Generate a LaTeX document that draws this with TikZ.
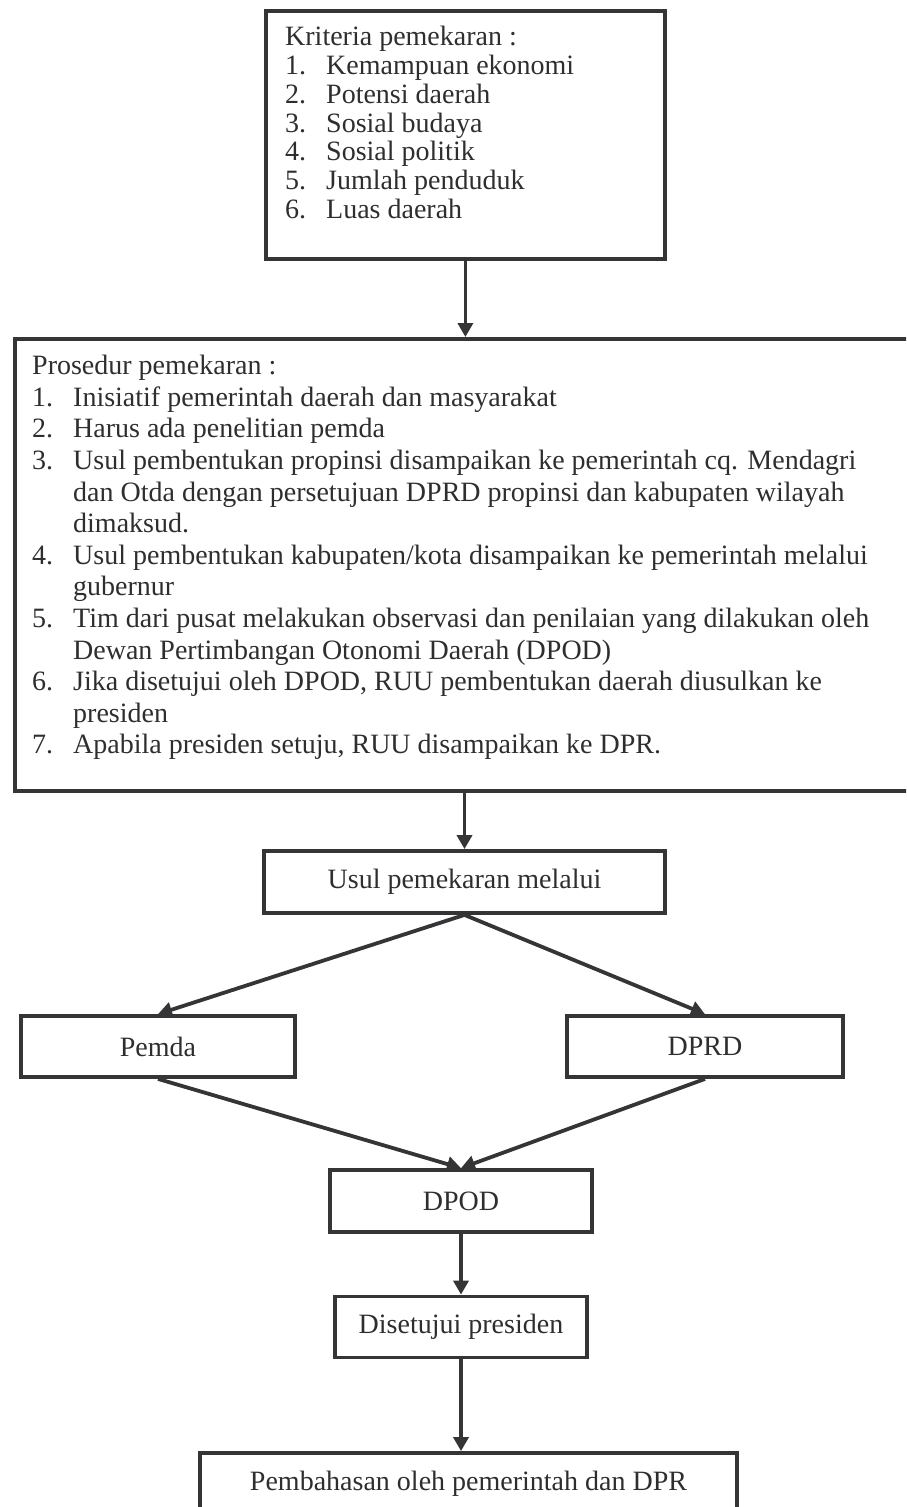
\documentclass[tikz,border=0pt]{standalone}
\usepackage{fontspec}
\setmainfont{Liberation Serif}
\usetikzlibrary{arrows.meta}
\definecolor{boxline}{HTML}{353538}
\definecolor{boxtext}{HTML}{2E2E2E}
\tikzset{
  box/.style={draw=boxline, line width=3.8pt, rectangle, inner sep=0pt},
  txt/.style={text=boxtext, font=\fontsize{28}{31.6}\selectfont},
  list/.style={txt, align=left, inner sep=0pt, anchor=north west},
  flow/.style={draw=boxline, line width=3.8pt, -{Triangle[length=14pt,width=15pt]}}
}
\newcommand{\nr}[1]{\makebox[41pt][l]{#1}}
\begin{document}
\begin{tikzpicture}[x=1pt,y=-1pt]
        \useasboundingbox (0,0) rectangle (906,1507);
        \clip (0,0) rectangle (906,1507);
        %% Kriteria
        \node[box, minimum width=399, minimum height=248, anchor=north west] (krit) at (264,9) {};
        \node[list, font=\fontsize{28}{28.8}\selectfont] (kritlist) at (285,26) {Kriteria pemekaran :\\
            \nr{1.}Kemampuan ekonomi\\
            \nr{2.}Potensi daerah\\
            \nr{3.}Sosial budaya\\
            \nr{4.}Sosial politik\\
            \nr{5.}Jumlah penduduk\\
            \nr{6.}Luas daerah};
        %% Prosedur
        \node[box, minimum width=912, minimum height=452, anchor=north west] (proc) at (13,337) {};
        \node[list] (proclist) at (32,355) {Prosedur pemekaran :\\
            \nr{1.}Inisiatif pemerintah daerah dan masyarakat\\
            \nr{2.}Harus ada penelitian pemda\\
            \nr{3.}Usul pembentukan propinsi disampaikan ke pemerintah cq. Mendagri\\
            \hspace*{41pt}dan Otda dengan persetujuan DPRD propinsi dan kabupaten wilayah\\
            \hspace*{41pt}dimaksud.\\
            \nr{4.}Usul pembentukan kabupaten/kota disampaikan ke pemerintah melalui\\
            \hspace*{41pt}gubernur\\
            \nr{5.}Tim dari pusat melakukan observasi dan penilaian yang dilakukan oleh\\
            \hspace*{41pt}Dewan Pertimbangan Otonomi Daerah (DPOD)\\
            \nr{6.}Jika disetujui oleh DPOD, RUU pembentukan daerah diusulkan ke\\
            \hspace*{41pt}presiden\\
            \nr{7.}Apabila presiden setuju, RUU disampaikan ke DPR.};
        %% Alur usul
        \node[box, txt, minimum width=401, minimum height=62] (usul) at (464.5,882) {Usul pemekaran melalui};
        \node[box, txt, minimum width=274, minimum height=61] (pemda) at (158,1046.5) {Pemda};
        \node[box, txt, minimum width=276, minimum height=61] (dprd) at (705,1046.5) {DPRD};
        \node[box, txt, minimum width=262, minimum height=62] (dpod) at (461,1201) {DPOD};
        \node[box, txt, minimum width=252, minimum height=61] (setuju) at (461,1327) {Disetujui presiden};
        \node[box, txt, minimum width=537, minimum height=62] (bahas) at (468.5,1484) {Pembahasan oleh pemerintah dan DPR};
        %% Panah
        \draw[flow] (krit.south) -- (krit.south |- proc.north);
        \draw[flow] (usul.north |- proc.south) -- (usul.north);
        \draw[flow] (usul.south) -- (pemda.north);
        \draw[flow] (usul.south) -- (dprd.north);
        \draw[flow] (pemda.south) -- (dpod.north);
        \draw[flow] (dprd.south) -- (dpod.north);
        \draw[flow] (dpod.south) -- (setuju.north);
        \draw[flow] (setuju.south) -- (setuju.south |- bahas.north);
    \end{tikzpicture}
\end{document}
